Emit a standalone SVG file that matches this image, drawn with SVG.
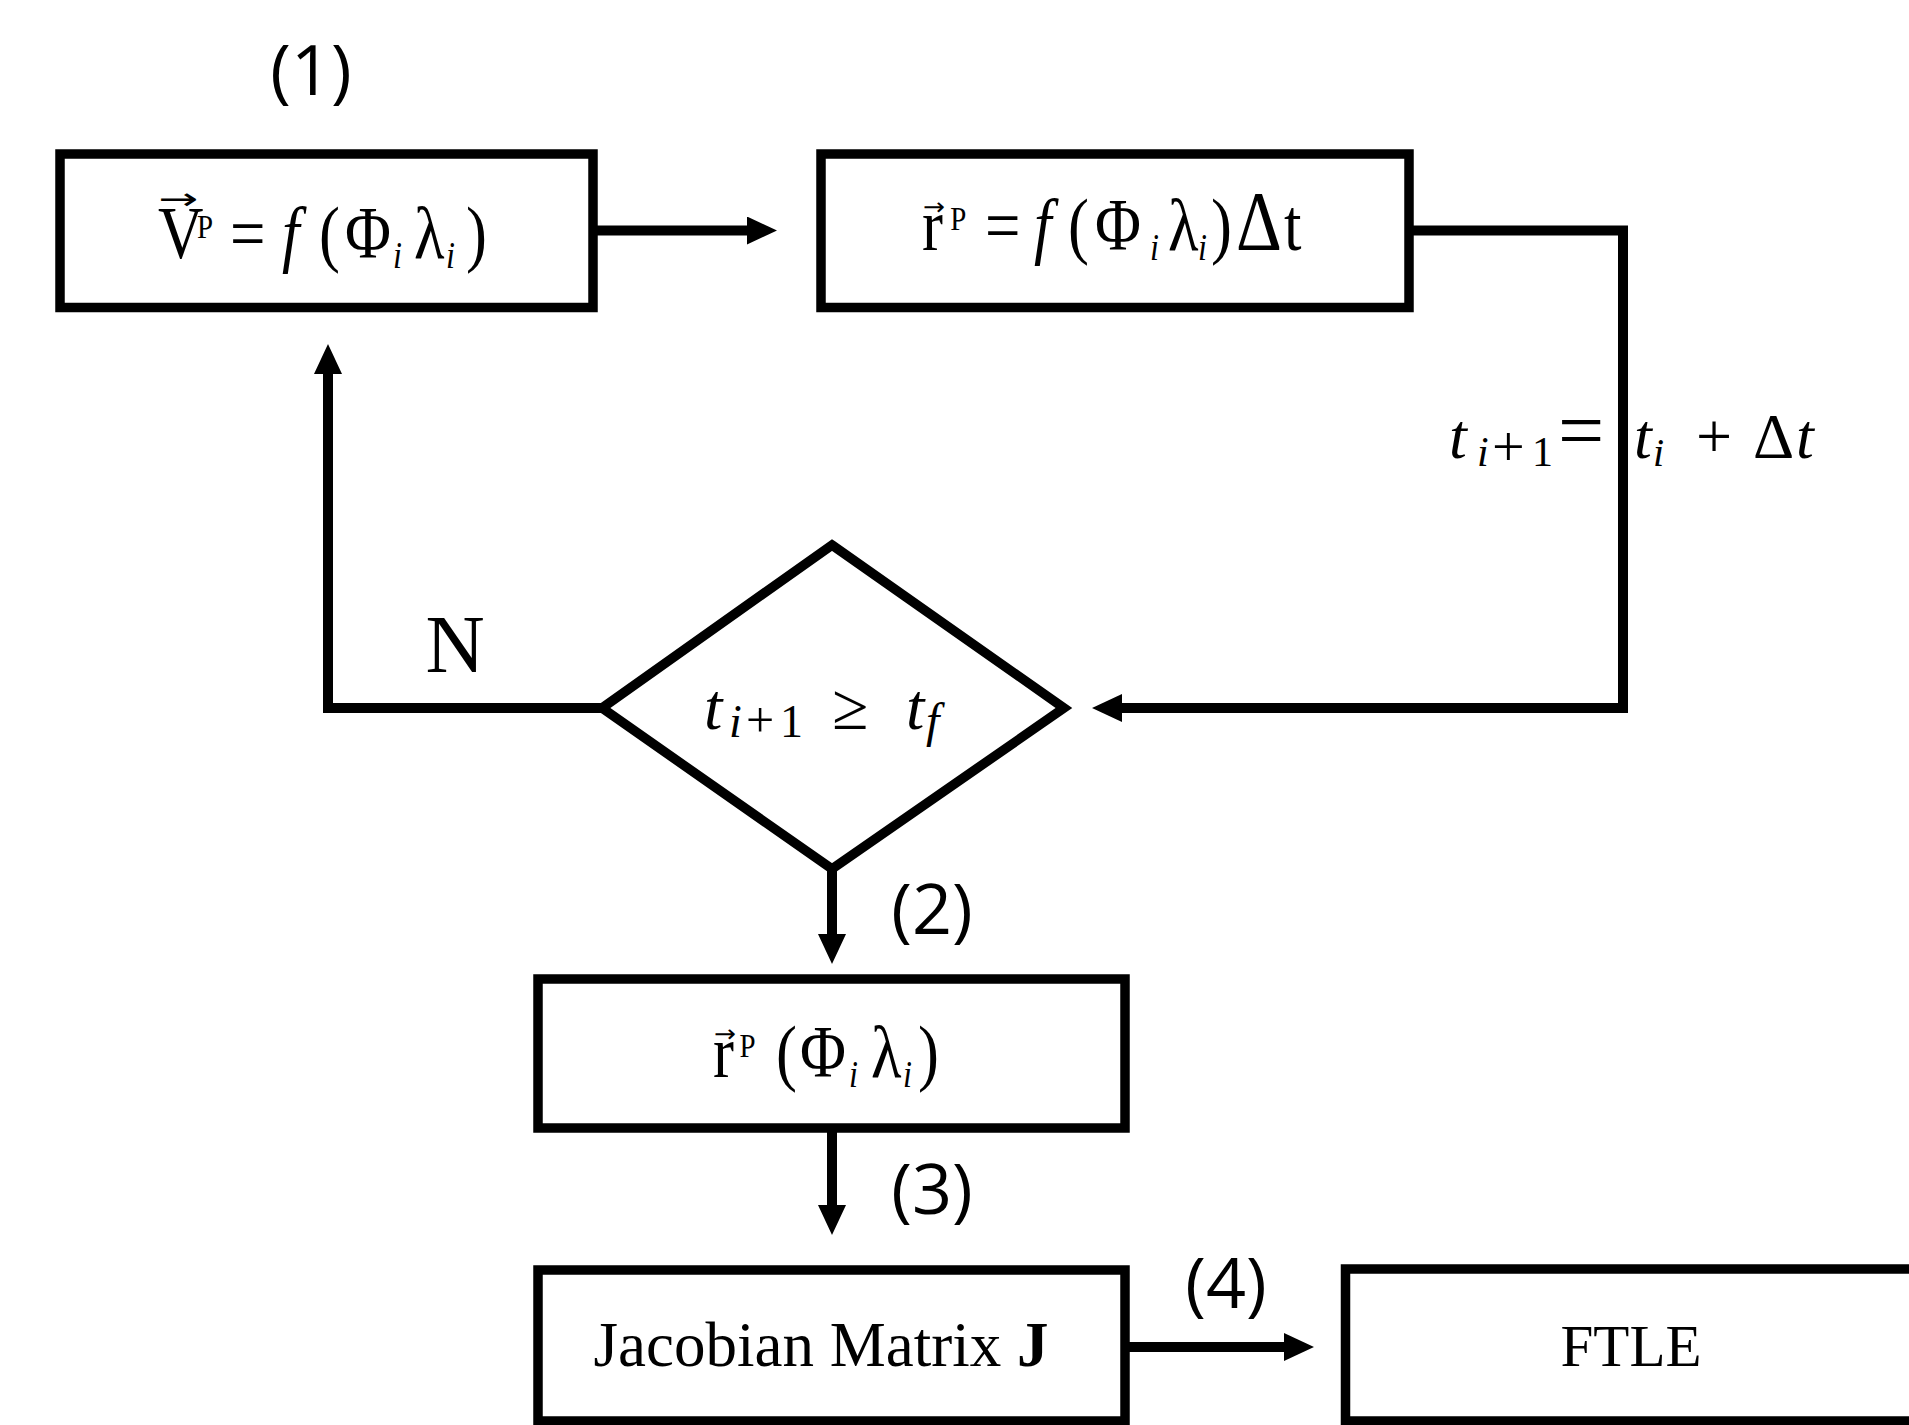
<svg xmlns="http://www.w3.org/2000/svg" width="1909" height="1425" viewBox="0 0 1909 1425">
<style>
.box{fill:none;stroke:#000;stroke-width:9.5;stroke-linejoin:miter}
.con{fill:none;stroke:#000;stroke-width:10;stroke-linejoin:miter;stroke-linecap:butt}
.m{font-family:"Liberation Serif","DejaVu Serif",serif;fill:#000}
.vec{font-family:"DejaVu Sans","Liberation Sans",sans-serif;fill:#000}
.lbl{font-family:"Open Sans","Liberation Sans",sans-serif;fill:#000}
.it{font-style:italic}
</style>
<defs>
<marker id="ah" markerUnits="userSpaceOnUse" markerWidth="30" markerHeight="28" refX="4" refY="14" orient="auto" viewBox="0 0 30 28"><path d="M0,0 L30,14 L0,28 z" fill="#000"/></marker>
</defs>
<rect width="1909" height="1425" fill="#fff"/>
<g id="connectors">
<path class="con" d="M597,230.5 H751" marker-end="url(#ah)"/>
<path class="con" d="M1412,230.5 H1623 V708 H1118" marker-end="url(#ah)"/>
<path class="con" d="M602,708 H328 V370" marker-end="url(#ah)"/>
<path class="con" d="M832,869 V938" marker-end="url(#ah)"/>
<path class="con" d="M832,1132 V1209" marker-end="url(#ah)"/>
<path class="con" d="M1129,1347 H1288" marker-end="url(#ah)"/>
</g>
<g id="node-velocity">
<rect class="box" x="60" y="154" width="533" height="153.5"/>
<text class="m" y="258" font-size="74" transform="scale(0.85,1)"><tspan x="185.9">V</tspan><tspan x="231.8" font-size="34" dy="-20">P</tspan><tspan x="270.6" dy="20">=</tspan><tspan class="it" x="331.8">f</tspan><tspan x="375.3">(</tspan><tspan x="405.9">Φ</tspan><tspan class="it" x="462.4" font-size="38" dy="10">i</tspan><tspan x="487.1" dy="-10">λ</tspan><tspan class="it" x="524.7" font-size="38" dy="10">i</tspan><tspan x="548.2" dy="-10">)</tspan></text>
<text class="vec" x="158" y="209" font-size="30" textLength="40" lengthAdjust="spacingAndGlyphs">→</text>
</g>
<g id="node-displacement">
<rect class="box" x="821" y="154" width="588" height="153.5"/>
<text class="m" y="250" font-size="74" transform="scale(0.85,1)"><tspan x="1084.7">r</tspan><tspan x="1118" font-size="34" dy="-20">P</tspan><tspan x="1158.8" dy="20">=</tspan><tspan class="it" x="1216.5">f</tspan><tspan x="1256.5">(</tspan><tspan x="1288.2">Φ</tspan><tspan class="it" x="1352.9" font-size="38" dy="10">i</tspan><tspan x="1374.1" dy="-10">λ</tspan><tspan class="it" x="1409.4" font-size="38" dy="10">i</tspan><tspan x="1424.7" dy="-10">)</tspan><tspan x="1454" font-size="84">Δ</tspan><tspan x="1510.6">t</tspan></text>
<text class="vec" x="923" y="215" font-size="24" textLength="22" lengthAdjust="spacingAndGlyphs">→</text>
</g>
<g id="node-decision">
<polygon class="box" points="832,545 1064,708 832,869 602,708"/>
<text class="m" y="729" font-size="66"><tspan class="it" x="704">t</tspan><tspan class="it" x="729" dy="8" font-size="46">i</tspan><tspan x="746" font-size="50">+</tspan><tspan x="780" font-size="46">1</tspan><tspan x="832" dy="-8">≥</tspan><tspan class="it" x="906">t</tspan><tspan class="it" x="926" dy="8" font-size="48">f</tspan></text>
</g>
<g id="node-position">
<rect class="box" x="538" y="979" width="587" height="149"/>
<text class="m" y="1077" font-size="74" transform="scale(0.85,1)"><tspan x="838.8">r</tspan><tspan x="870" font-size="34" dy="-20">P</tspan><tspan x="912.9" dy="20">(</tspan><tspan x="941.2">Φ</tspan><tspan class="it" x="998.8" font-size="38" dy="10">i</tspan><tspan x="1024.7" dy="-10">λ</tspan><tspan class="it" x="1062.4" font-size="38" dy="10">i</tspan><tspan x="1080" dy="-10">)</tspan></text>
<text class="vec" x="714" y="1042" font-size="24" textLength="22" lengthAdjust="spacingAndGlyphs">→</text>
</g>
<g id="node-jacobian">
<rect class="box" x="538" y="1270" width="587" height="151"/>
<text class="m" x="821" y="1366" text-anchor="middle" font-size="63">Jacobian Matrix <tspan font-weight="bold">J</tspan></text>
</g>
<g id="node-ftle">
<rect class="box" x="1345.5" y="1269" width="600" height="152"/>
<text class="m" x="1631" y="1366" text-anchor="middle" font-size="59">FTLE</text>
</g>
<g id="labels">
<text class="lbl" x="311" y="95" text-anchor="middle" font-size="70">(1)</text>
<text class="lbl" x="932" y="934" text-anchor="middle" font-size="70">(2)</text>
<text class="lbl" x="932" y="1214" text-anchor="middle" font-size="70">(3)</text>
<text class="lbl" x="1226" y="1308" text-anchor="middle" font-size="70">(4)</text>
<text class="m" x="455" y="672" text-anchor="middle" font-size="82">N</text>
<text class="m" y="458" font-size="64"><tspan class="it" x="1449">t</tspan><tspan class="it" x="1477" dy="8" font-size="42">i</tspan><tspan x="1492" font-size="58">+</tspan><tspan x="1532" font-size="42">1</tspan><tspan x="1558" dy="-8" font-size="82">=</tspan><tspan class="it" x="1634">t</tspan><tspan class="it" x="1653" dy="8" font-size="40">i</tspan><tspan x="1696" dy="-8">+</tspan><tspan x="1753">Δ</tspan><tspan class="it" x="1796">t</tspan></text>
</g>
</svg>
